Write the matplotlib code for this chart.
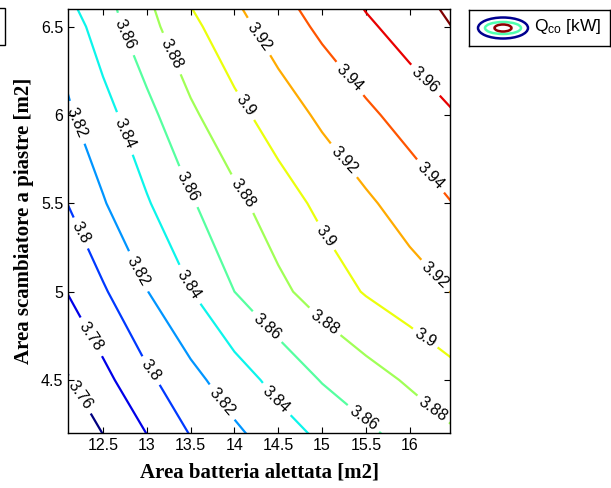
import numpy as np
import matplotlib
matplotlib.use("Agg")
import matplotlib.pyplot as plt
from matplotlib.patches import Ellipse, Rectangle

plt.rcParams['font.family'] = ['Liberation Sans', 'DejaVu Sans']
plt.rcParams['mathtext.fontset'] = 'custom'
plt.rcParams['mathtext.rm'] = 'Liberation Sans'

# griglia (m2)
area_batteria = [12.0, 12.5, 13.0, 13.5, 14.0, 14.5, 15.0, 15.5, 16.0, 16.5]
area_piastre = [4.0, 4.5, 5.0, 5.5, 6.0, 6.5, 7.0]

# Q_co [kW], una riga per ogni area piastre
q_co_40 = [3.7309, 3.7512, 3.7701, 3.7923, 3.8069, 3.8211, 3.8336, 3.8460, 3.8571, 3.8675]
q_co_45 = [3.7547, 3.7742, 3.7959, 3.8140, 3.8306, 3.8464, 3.8611, 3.8718, 3.8826, 3.8937]
q_co_50 = [3.7766, 3.7976, 3.8194, 3.8394, 3.8600, 3.8754, 3.8890, 3.9015, 3.9112, 3.9208]
q_co_55 = [3.7959, 3.8185, 3.8382, 3.8580, 3.8749, 3.8907, 3.9047, 3.9168, 3.9285, 3.9402]
q_co_60 = [3.8136, 3.8326, 3.8541, 3.8764, 3.8941, 3.9096, 3.9237, 3.9361, 3.9477, 3.9589]
q_co_65 = [3.8247, 3.8497, 3.8733, 3.8950, 3.9131, 3.9294, 3.9440, 3.9566, 3.9686, 3.9805]
q_co_70 = [3.8492, 3.8642, 3.8878, 3.9165, 3.9326, 3.9484, 3.9620, 3.9776, 3.9851, 3.9930]

livelli = [3.76, 3.78, 3.80, 3.82, 3.84, 3.86, 3.88, 3.90, 3.92, 3.94, 3.96, 3.98]

# posizioni delle etichette
pos_etichette = [
    (12.24, 4.42), (12.33, 4.73), (13.04, 4.55), (12.21, 5.32),
    (12.21, 5.96), (12.89, 5.11), (13.83, 4.36),
    (12.69, 5.88), (13.46, 5.03), (14.48, 4.39),
    (12.73, 6.45), (13.46, 5.59), (14.43, 4.84), (15.47, 4.28),
    (13.26, 6.34), (14.08, 5.55), (15.03, 4.83), (16.25, 4.32),
    (14.12, 6.05), (15.03, 5.31), (16.17, 4.73),
    (14.27, 6.44), (15.26, 5.75), (16.26, 5.07),
    (15.34, 6.22), (16.23, 5.65),
    (16.17, 6.19),
]

X, Y = np.meshgrid(area_batteria, area_piastre)
Z = np.array([q_co_40, q_co_45, q_co_50, q_co_55, q_co_60, q_co_65, q_co_70])

W, H = 611, 488
fig = plt.figure(figsize=(W / 100, H / 100), dpi=100)
ax = fig.add_axes([68 / W, 1 - 433 / H, 382 / W, 424 / H])

cs = ax.contour(X, Y, Z, levels=livelli, cmap='jet', linewidths=1.6)
ax.clabel(cs, fontsize=11.5, colors='k', inline=True, inline_spacing=3,
          fmt='%g', manual=pos_etichette)

ax.set_xlim(12.1, 16.46)
ax.set_ylim(4.2, 6.6)
ax.set_xticks([12.5, 13, 13.5, 14, 14.5, 15, 15.5, 16])
ax.set_xticklabels(['12.5', '13', '13.5', '14', '14.5', '15', '15.5', '16'])
ax.set_yticks([4.5, 5, 5.5, 6, 6.5])
ax.set_yticklabels(['4.5', '5', '5.5', '6', '6.5'])
ax.tick_params(direction='in', top=True, right=True, labelsize=11.5, length=4, width=0.8)
for s in ax.spines.values():
    s.set_linewidth(1.0)

ax.set_xlabel('Area batteria alettata [m2]', family='Liberation Serif',
              fontweight='bold', fontsize=15, labelpad=7)
ax.set_ylabel('Area scambiatore a piastre [m2]', family='Liberation Serif',
              fontweight='bold', fontsize=15, labelpad=5)

# legenda
leg = fig.add_axes([469 / W, 1 - 46 / H, 141 / W, 36 / H])
leg.set_xlim(0, 141)
leg.set_ylim(0, 36)
leg.set_xticks([])
leg.set_yticks([])
for s in leg.spines.values():
    s.set_linewidth(1.0)
leg.add_patch(Ellipse((34, 18), 50, 21, fill=False, ec='#00008f', lw=1.8))
leg.add_patch(Ellipse((34, 18), 36, 12, fill=False, ec='#50ffaf', lw=1.8))
leg.add_patch(Ellipse((34, 18), 17, 7, fill=False, ec='#8f0000', lw=1.8))
leg.text(65, 19, r'$\mathrm{Q_{co}}$ [kW]', fontsize=12.5, va='center', ha='left')

# riquadro tagliato a sinistra
fig.patches.append(Rectangle((-10 / W, 1 - 45 / H), 15 / W, 37 / H, fill=False,
                             ec='k', lw=1.0, transform=fig.transFigure, figure=fig))

fig.savefig('out.png', dpi=100)
